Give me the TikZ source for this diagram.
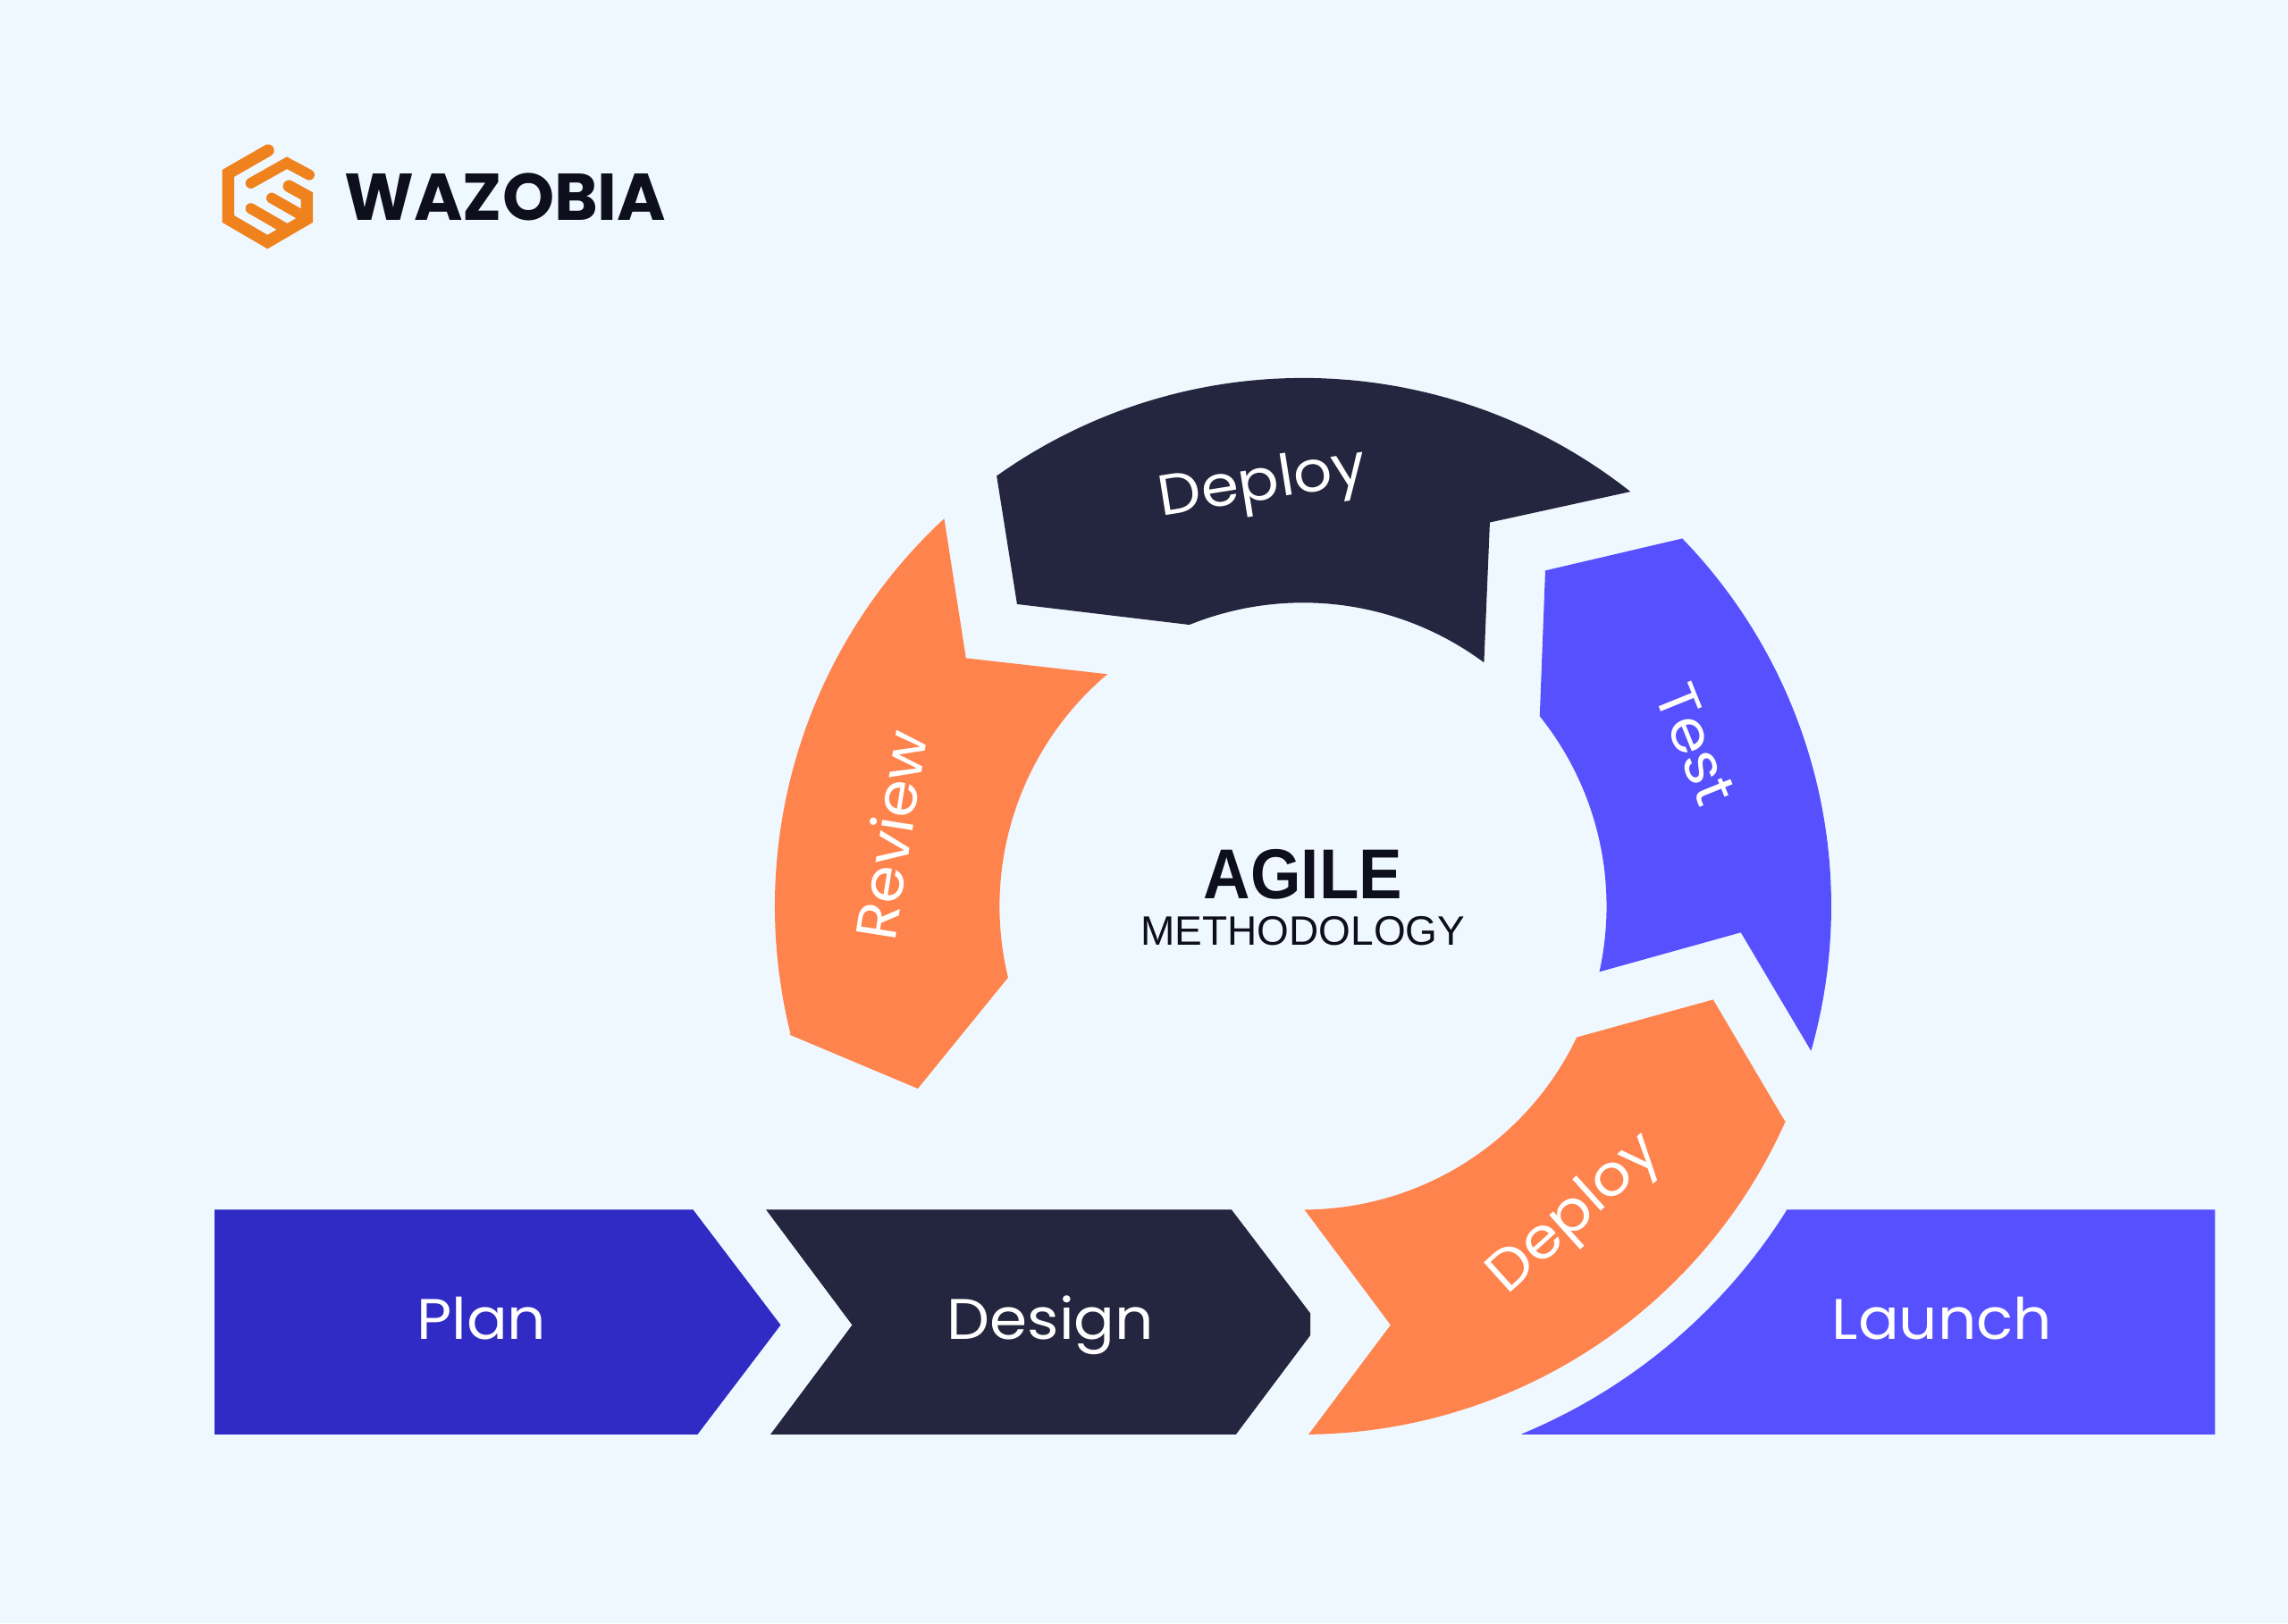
\documentclass[tikz,border=0pt]{standalone}
\usepackage{fontspec}
\setmainfont{Poppins}
\newfontfamily\heros{Liberation Sans}
\definecolor{bgc}{HTML}{F0F8FF}
\definecolor{darkc}{HTML}{24253E}
\definecolor{orangec}{HTML}{FF834D}
\definecolor{bluec}{HTML}{5650FF}
\definecolor{planc}{HTML}{2F2BC4}
\definecolor{logoc}{HTML}{F0821E}
\definecolor{inkc}{HTML}{0D0F1C}
\tikzset{
  seg/.style={fill=#1,draw=none},
  lab/.style={text=white,font=\fontsize{64}{72}\selectfont,inner sep=0pt,xscale=1.06},
  logobar/.style={draw=logoc,line width=#1,line cap=round,line join=miter}
}
\begin{document}
\begin{tikzpicture}[x=1.63265pt,y=-1.63265pt]
\fill[bgc] (0,0) rectangle (1568,1112.3);
\useasboundingbox (0,0) rectangle (1568,1112.3);
% ring
\fill[seg=darkc] (683,326) -- plot[domain=125.4:51.7,samples=90] ({893+362*cos(\x)},{621-362*sin(\x)}) -- (1021,358) -- (1017,454) -- plot[domain=53.4:112,samples=90] ({893+208*cos(\x)},{621-208*sin(\x)}) -- (697,414) -- cycle;
\fill[seg=bluec] (1059,391) -- (1153,369) -- plot[domain=44.1:-15.9,samples=90] ({893+362*cos(\x)},{621-362*sin(\x)}) -- (1193,639) -- (1096,666) -- plot[domain=-12.5:38.75,samples=90] ({893+208*cos(\x)},{621-208*sin(\x)}) -- cycle;
\fill[seg=orangec] (1080,711) -- (1174,685) -- (1223,768) -- plot[domain=-24:-89.4,samples=90] ({893+362*cos(\x)},{621-362*sin(\x)}) -- (953,908) -- (894,829) -- plot[domain=-89.7:-25.7,samples=90] ({893+208*cos(\x)},{621-208*sin(\x)}) -- cycle;
\fill[seg=orangec] (647,355) -- (662,451) -- (759,462) -- plot[domain=130.1:193.6,samples=90] ({893+208*cos(\x)},{621-208*sin(\x)}) -- (629,746) -- (541,709) -- plot[domain=194:132.8,samples=90] ({893+362*cos(\x)},{621-362*sin(\x)}) -- cycle;
% bars
\fill[seg=planc] (147,829) -- (475,829) -- (535,908) -- (478,983) -- (147,983) -- cycle;
\fill[seg=darkc] (525,829) -- (844,829) -- (898,900) -- (898,915) -- (847,983) -- (528,983) -- (584,908) -- cycle;
\fill[seg=bluec] (1224,829) -- (1518,829) -- (1518,983) -- (1043,983) -- plot[domain=-67.5:-32.1,samples=60] ({893+391.5*cos(\x)},{621-391.5*sin(\x)}) -- cycle;
% labels
\node[lab,anchor=base] (plan) at (330,918) {Plan};
\node[lab,anchor=base] (design) at (720,918) {Design};
\node[lab,anchor=base] (launch) at (1331,918) {Launch};
\node[rotate=9,lab] (deploytop) at (865.5,333) {Deploy};
\node[rotate=-68,lab] (test) at (1162,510) {Test};
\node[rotate=42,lab] (deploylow) at (1080,833) {Deploy};
\node[rotate=81,lab] (review) at (610,572) {Review};
\node[anchor=base,inner sep=0pt,text=inkc,xscale=0.92,font=\heros\bfseries\fontsize{79}{84}\selectfont] (agile) at (893,615.6) {AGILE};
\node[anchor=base,inner sep=0pt,text=inkc,font=\heros\fontsize{46}{50}\selectfont] (method) at (893,647.5) {METHODOLOGY};
\node[anchor=base west,inner sep=0pt,text=inkc,font=\bfseries\fontsize{74}{80}\selectfont] (wazobia) at (236,151) {WAZOBIA};
% logo
\begin{scope}[shift={(147,94.9)},x=0.3333pt,y=-0.3333pt]
\draw[logobar=13.5pt] (180,40) -- (46,117) -- (46,270) -- (178,347) -- (310,270) -- (310,193) -- (250,160);
\draw[logobar=12pt] (122,150) -- (243,82) -- (318,122);
\draw[logobar=12pt] (192,200) -- (292,257);
\draw[logobar=12pt] (122,235) -- (240,303);
\end{scope}
\end{tikzpicture}
\end{document}
